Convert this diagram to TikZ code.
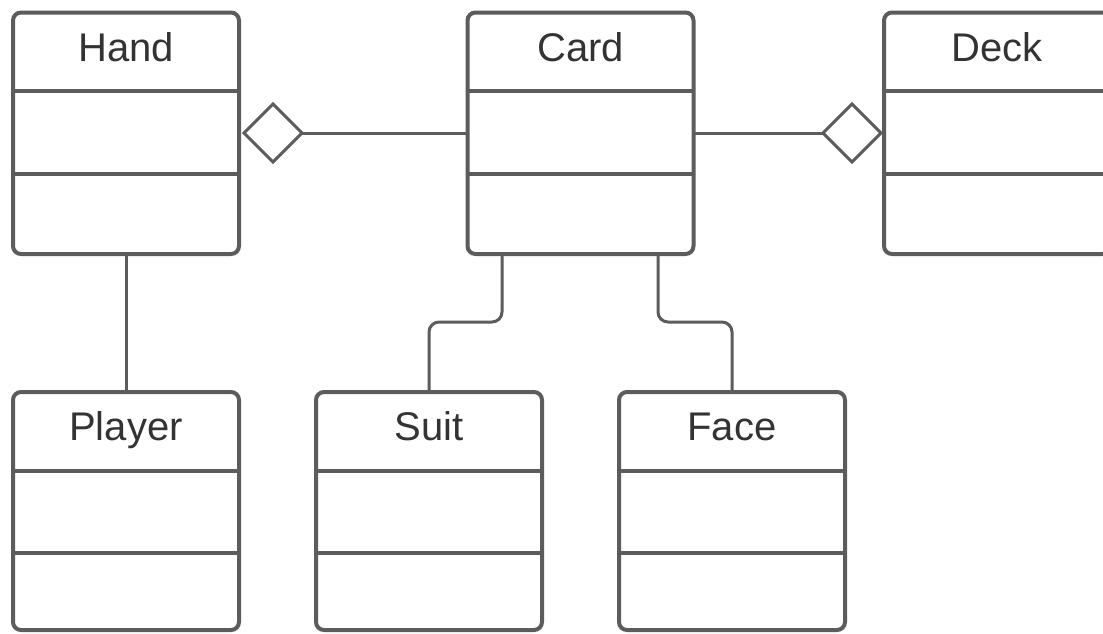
\documentclass[tikz,border=0pt]{standalone}
\usepackage{fontspec}
\setmainfont{Liberation Sans}
\usetikzlibrary{shapes.geometric}
\definecolor{linec}{RGB}{92,92,92}
\definecolor{textc}{RGB}{51,51,51}
\begin{document}
\begin{tikzpicture}[x=1pt,y=-1pt,
  umlbox/.style={draw=linec, line width=4pt, rounded corners=8pt, fill=white,
    minimum width=226pt, inner sep=0pt, outer sep=0pt},
  topbox/.style={umlbox, minimum height=241.5pt},
  botbox/.style={umlbox, minimum height=238pt},
  divider/.style={draw=linec, line width=4pt},
  conn/.style={draw=linec, line width=3pt, rounded corners=10pt},
  agg/.style={diamond, draw=linec, line width=3pt, fill=white, aspect=1,
    minimum width=58pt, minimum height=58pt, inner sep=0pt, outer sep=0pt},
  title/.style={anchor=base, text=textc, font=\fontsize{40}{48}\selectfont, inner sep=0pt}
]
\useasboundingbox (0,0) rectangle (1103,633);
\fill[white] (0,0) rectangle (1103,633);

% top row
\node[topbox] (Hand) at (126,133.25) {};
\node[topbox] (Card) at (580.5,133.25) {};
\node[topbox] (Deck) at (997,133.25) {};
% bottom row
\node[botbox] (Player) at (126,511) {};
\node[botbox] (Suit) at (429,511) {};
\node[botbox] (Face) at (732,511) {};

% dividers
\foreach \b in {Hand,Card,Deck} {
  \draw[divider] ([yshift=-78.5pt]\b.north west) -- ([yshift=-78.5pt]\b.north east);
  \draw[divider] ([yshift=-161pt]\b.north west) -- ([yshift=-161pt]\b.north east);
}
\foreach \b in {Player,Suit,Face} {
  \draw[divider] ([yshift=-78.7pt]\b.north west) -- ([yshift=-78.7pt]\b.north east);
  \draw[divider] ([yshift=-160.7pt]\b.north west) -- ([yshift=-160.7pt]\b.north east);
}

% titles
\node[title] (tHand) at (126,61) {Hand};
\node[title] (tCard) at (580.5,61) {Card};
\node[title] (tDeck) at (997,61) {Deck};
\node[title] (tPlayer) at (126,440.5) {Player};
\node[title] (tSuit) at (429,440.5) {Suit};
\node[title] (tFace) at (732,440.5) {Face};

% aggregation diamonds
\node[agg] (dHand) at (273,133) {};
\node[agg] (dDeck) at (852,133) {};

% connectors
\draw[conn] (dHand.east) -- (Card.west |- dHand.east);
\draw[conn] (Card.east |- dDeck.west) -- (dDeck.west);
\draw[conn] (Hand.south) -- (Player.north);
\draw[conn] ([xshift=-78.5pt]Card.south) |- ([yshift=70pt]Suit.north) -- (Suit.north);
\draw[conn] ([xshift=77.5pt]Card.south) |- ([yshift=70pt]Face.north) -- (Face.north);
\end{tikzpicture}
\end{document}
